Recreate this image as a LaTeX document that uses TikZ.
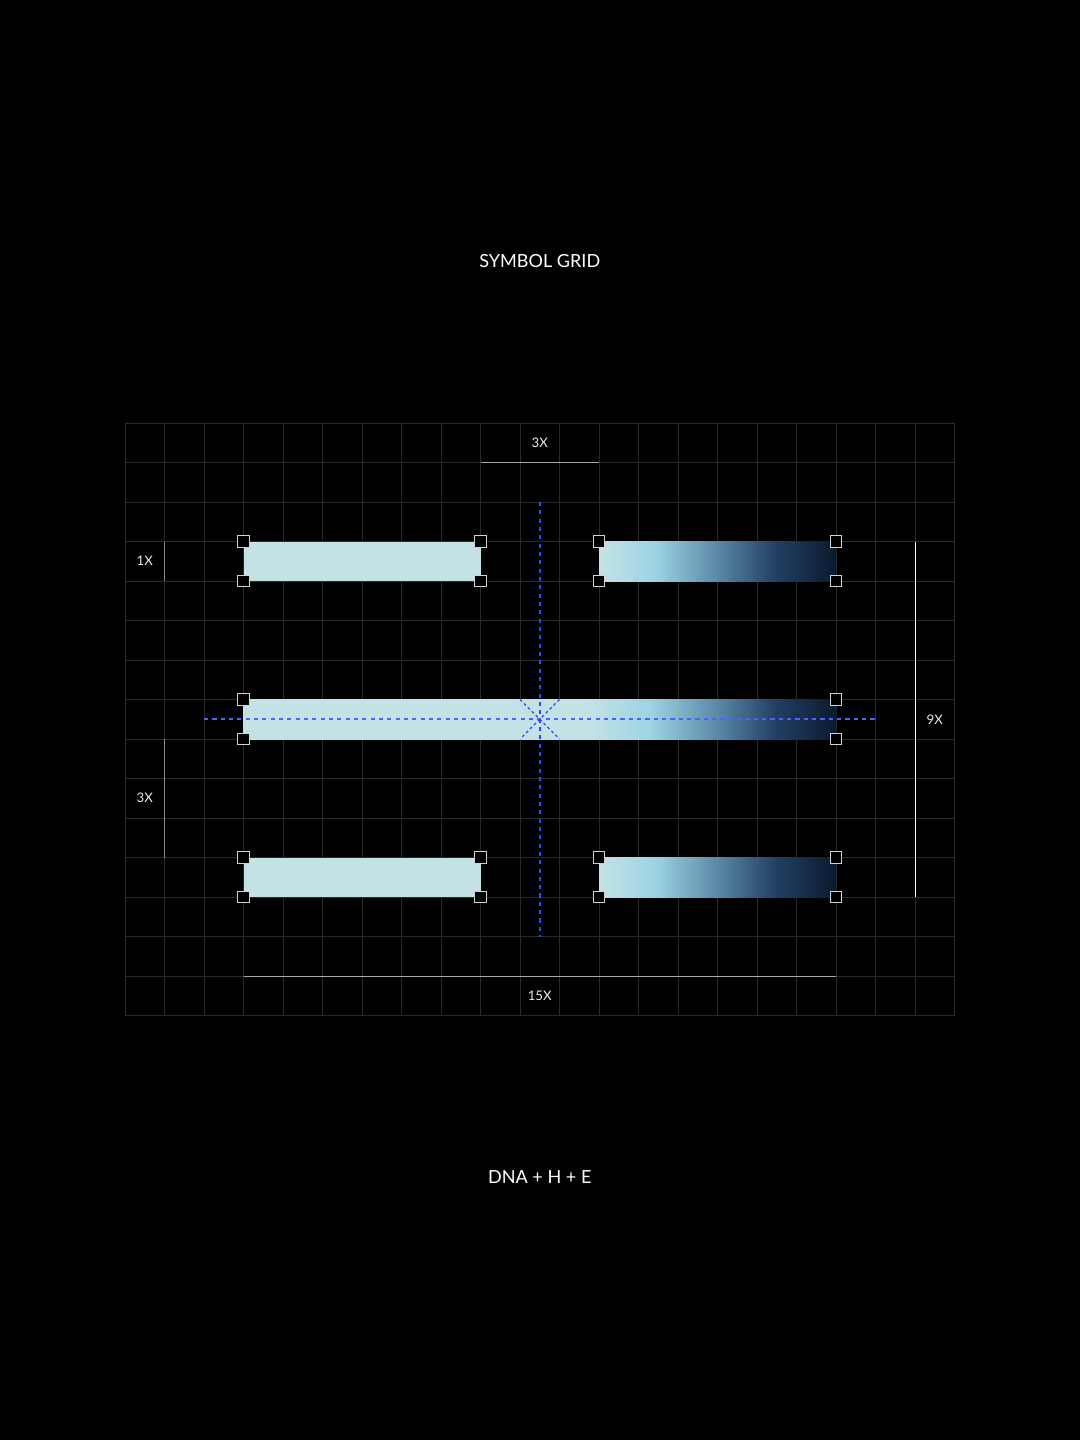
\documentclass[tikz,border=0pt]{standalone}
\usepackage{fontspec}
\setmainfont{Lato}
\definecolor{bg}{HTML}{000000}
\definecolor{gridgray}{HTML}{2A2A2A}
\definecolor{barlight}{HTML}{C3E2E5}
\definecolor{barsky}{HTML}{9DD4E4}
\definecolor{barmid}{HTML}{5A88A6}
\definecolor{barnavy}{HTML}{213E62}
\definecolor{bardark}{HTML}{0A1A2E}
\definecolor{guideblue}{HTML}{2E46FF}
\definecolor{dimgray}{HTML}{A8A8A8}
\pgfdeclarehorizontalshading{fadeshort}{100bp}{color(0bp)=(barlight); color(25bp)=(barlight);
  color(36.7bp)=(barsky); color(50bp)=(barmid); color(62.5bp)=(barnavy);
  color(75bp)=(bardark); color(100bp)=(bardark)}
\pgfdeclarehorizontalshading{fadelong}{100bp}{color(0bp)=(barlight); color(25bp)=(barlight);
  color(54bp)=(barlight); color(59.3bp)=(barsky); color(65bp)=(barmid);
  color(70bp)=(barnavy); color(75bp)=(bardark); color(100bp)=(bardark)}
\begin{document}
\begin{tikzpicture}[
    bar/.style={inner sep=0pt,outer sep=0pt,minimum height=1cm,draw=none},
    handle/.style={draw=white!82!black,line width=.7pt,fill=black,minimum size=.3cm,inner sep=0pt},
    guide/.style={draw=guideblue,line width=1.1pt,dash pattern=on 3pt off 3pt},
    dimline/.style={dimgray,line width=.7pt},
    dimlabel/.style={white!92!black,font=\fontsize{9.5}{11}\selectfont},
    caption/.style={white,font=\fontsize{13}{15}\selectfont}]
  \fill[bg] (-3.165,10.709) rectangle (24.177,-25.747);
  \useasboundingbox (-3.165,10.709) rectangle (24.177,-25.747);
  % grid of 21 x 15 cells
  \draw[gridgray,line width=.5pt] (0,-15) grid (21,0);
  % bars
  \node[bar,minimum width=6cm,fill=barlight] (tl) at (6,-3.5) {};
  \node[bar,minimum width=6cm,shade,shading=fadeshort] (tr) at (15,-3.5) {};
  \node[bar,minimum width=15cm,shade,shading=fadelong] (mid) at (10.5,-7.5) {};
  \node[bar,minimum width=6cm,fill=barlight] (bl) at (6,-11.5) {};
  \node[bar,minimum width=6cm,shade,shading=fadeshort] (br) at (15,-11.5) {};
  % guides through the centre
  \coordinate (vtop) at (10.5,-2);
  \coordinate (vbot) at (10.5,-13);
  \coordinate (hleft) at (2,-7.5);
  \coordinate (hright) at (19,-7.5);
  \draw[guide] (vtop) -- (vbot);
  \draw[guide,draw=guideblue!85!white] (hleft) -- (hright);
  \coordinate (xa) at (10,-7);
  \coordinate (xb) at (11,-8);
  \coordinate (xc) at (11,-7);
  \coordinate (xd) at (10,-8);
  \draw[guide,line width=.8pt,dash pattern=on 2pt off 2pt] (xa) -- (xb);
  \draw[guide,line width=.8pt,dash pattern=on 2pt off 2pt] (xc) -- (xd);
  % corner handles
  \foreach \b in {tl,tr,bl,br}
  \foreach \a/\k in {north west/1,north east/2,south west/3,south east/4}
  \node[handle] (\b-h\k) at (\b.\a) {};
  \foreach \a/\k in {north west/1,north east/2,south west/3,south east/4}
  \node[handle] (mid-h\k) at (mid.\a) {};
  % dimensions
  \coordinate (d3a) at (9,-1);
  \coordinate (d3b) at (12,-1);
  \draw[dimline] (d3a) -- (d3b);
  \node[dimlabel] (l3top) at (10.5,-.5) {3X};
  \coordinate (d1a) at (1,-3);
  \coordinate (d1b) at (1,-4);
  \draw[dimline,white!55!black] (d1a) -- (d1b);
  \node[dimlabel] (l1) at (.5,-3.5) {1X};
  \coordinate (d3c) at (1,-8);
  \coordinate (d3d) at (1,-11);
  \draw[dimline,white!55!black] (d3c) -- (d3d);
  \node[dimlabel] (l3left) at (.5,-9.5) {3X};
  \coordinate (d9a) at (20,-3);
  \coordinate (d9b) at (20,-12);
  \draw[dimline,white] (d9a) -- (d9b);
  \node[dimlabel] (l9) at (20.5,-7.5) {9X};
  \coordinate (d15a) at (3,-14);
  \coordinate (d15b) at (18,-14);
  \draw[dimline] (d15a) -- (d15b);
  \node[dimlabel] (l15) at (10.5,-14.5) {15X};
  % captions
  \node[caption] (title) at (10.5,4.1) {SYMBOL GRID};
  \node[caption] (sub) at (10.5,-19.1) {DNA + H + E};
\end{tikzpicture}
\end{document}
